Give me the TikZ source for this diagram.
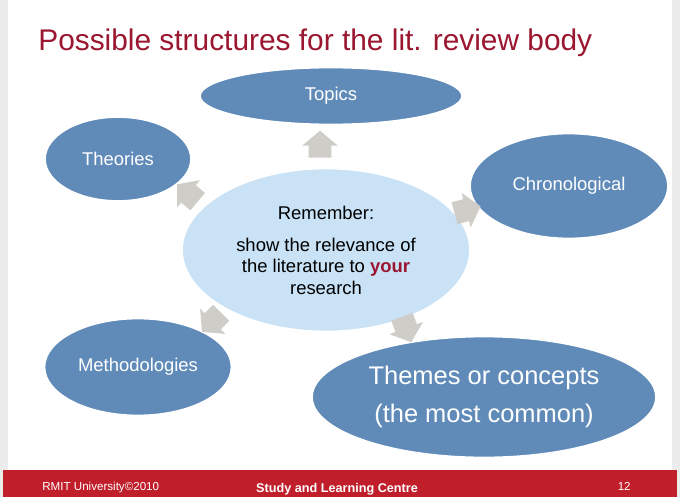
\documentclass[tikz,border=0pt]{standalone}
\usepackage{fontspec}
\setmainfont{Liberation Sans}
\usetikzlibrary{shapes.geometric,shapes.arrows}

\definecolor{slidered}{RGB}{192,30,42}
\definecolor{titlered}{RGB}{155,22,48}
\definecolor{bubbleblue}{RGB}{96,139,185}
\definecolor{centreblue}{RGB}{201,226,246}
\definecolor{arrowgrey}{RGB}{207,205,200}
\definecolor{framegrey}{RGB}{236,236,236}

\begin{document}
\begin{tikzpicture}[
			x=0.02cm,y=-0.02cm,
			bubble/.style={
				ellipse,
				fill=bubbleblue,
				draw=white,
				line width=1pt,
				text=white,
				align=center,
				inner sep=0pt,
				font=\fontsize{10.5}{12.6}\selectfont
			},
			pointer/.style={
				single arrow,
				fill=arrowgrey,
				inner xsep=0pt,
				inner ysep=0.22cm,
				minimum width=0.7cm,
				minimum height=0.54cm,
				single arrow head extend=0.13cm,
				single arrow tip angle=100,
				rotate=#1
			}
			]
			
			% Slide background and footer
			\useasboundingbox (0,0) rectangle (680,497);
			\fill[framegrey] (0,0) rectangle (680,497);
			\fill[white] (8,0) rectangle (672,470);
			\fill[slidered] (3,470) rectangle (677,497);
			
			% Title
			\node[anchor=base west,inner sep=0pt,text=titlered,font=\fontsize{17}{20}\selectfont] (title) at (38,51) {Possible structures for the lit. review body};
			
			% Centre bubble
			\node[ellipse,fill=centreblue,draw=white,line width=1pt,inner sep=0pt,align=center,
				minimum width=288*0.02cm,minimum height=163*0.02cm,
				font=\fontsize{10.5}{12.2}\selectfont] (centre) at (326,250)
				{Remember:\\[6pt] show the relevance of\\ the literature to \textbf{\color{titlered}your}\\ research};
			
			% Outer bubbles
			\node[bubble,minimum width=262*0.02cm,minimum height=57*0.02cm] (topics) at (331,96) {Topics};
			\node[bubble,minimum width=146*0.02cm,minimum height=84*0.02cm] (theories) at (118,159) {Theories};
			\node[bubble,minimum width=198*0.02cm,minimum height=105*0.02cm] (chrono) at (569,186) {Chronological};
			\node[bubble,minimum width=187*0.02cm,minimum height=97*0.02cm] (method) at (138,367) {Methodologies};
			\node[bubble,minimum width=344*0.02cm,minimum height=121*0.02cm,
				font=\fontsize{14.5}{22}\selectfont] (themes) at (484,397) {Themes or concepts\\ (the most common)};
			
			% Grey block arrows from the centre outwards
			\node[pointer=90] (totopics) at (320,149) {};
			\node[pointer=140] (totheories) at (191,196) {};
			\node[pointer=15] (tochrono) at (463,211) {};
			\node[pointer=225] (tomethod) at (215,319) {};
			\node[pointer=-70] (tothemes) at (405,325) {};
			
			% Footer texts
			\node[anchor=base west,inner sep=0pt,text=white,font=\fontsize{6.6}{8}\selectfont] (owner) at (42,490) {RMIT University©2010};
			\node[anchor=base,inner sep=0pt,text=white,font=\bfseries\fontsize{7.2}{9}\selectfont] (unit) at (337,492) {Study and Learning Centre};
			\node[anchor=base east,inner sep=0pt,text=white,font=\fontsize{6.6}{8}\selectfont] (page) at (631,490) {12};
			
		\end{tikzpicture}
\end{document}
